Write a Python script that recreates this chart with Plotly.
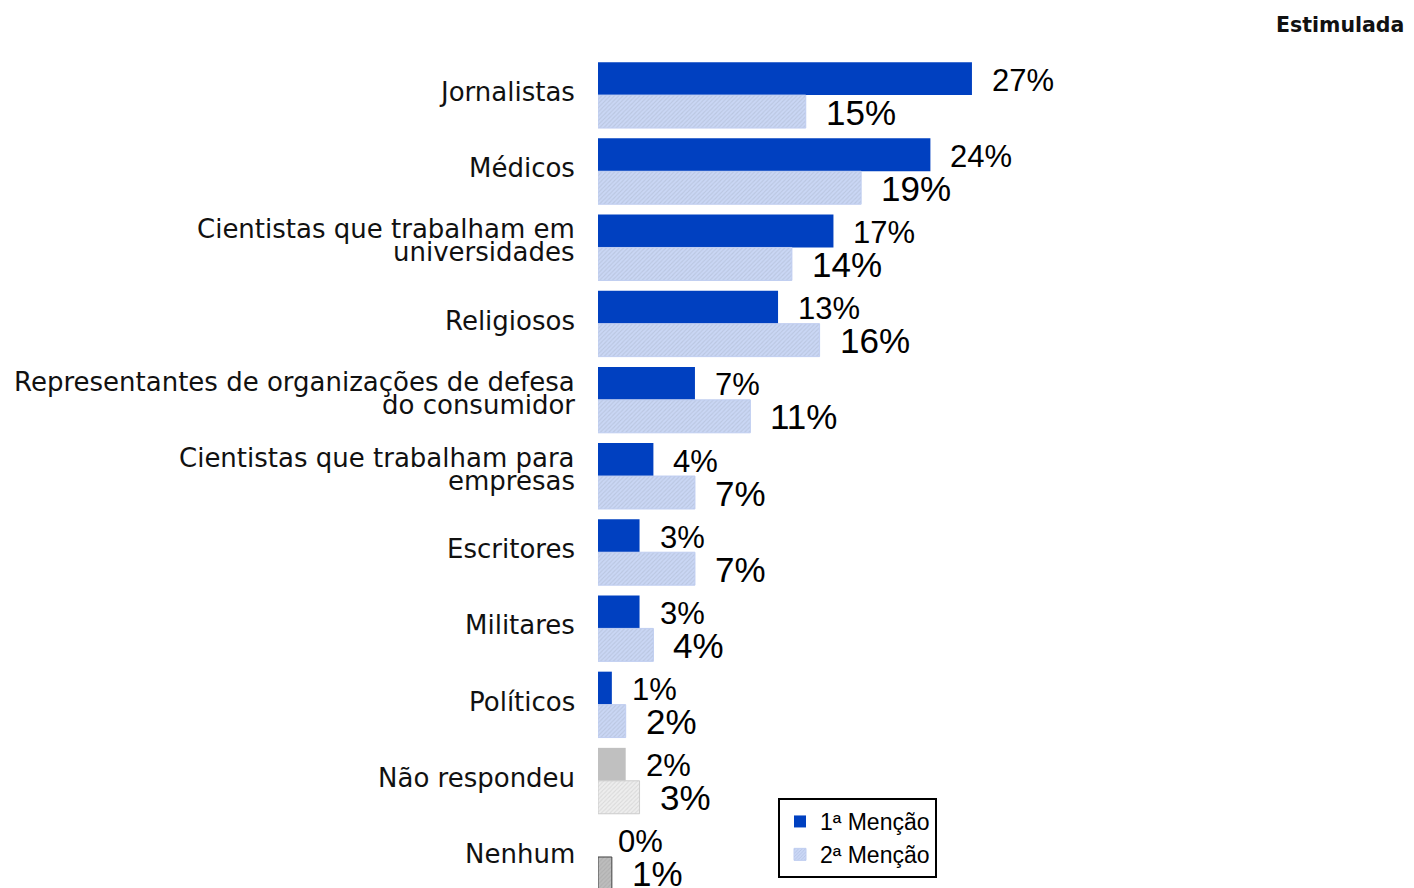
import plotly.graph_objects as go

categories = [
    "Jornalistas",
    "Médicos",
    "Cientistas que trabalham em<br>universidades",
    "Religiosos",
    "Representantes de organizações de defesa<br>do consumidor",
    "Cientistas que trabalham para<br>empresas",
    "Escritores",
    "Militares",
    "Políticos",
    "Não respondeu",
    "Nenhum",
]
first_mention = [27, 24, 17, 13, 7, 4, 3, 3, 1, 2, 0]
second_mention = [15, 19, 14, 16, 11, 7, 7, 4, 2, 3, 1]
series_names = ["1ª Menção", "2ª Menção"]
title_text = "Estimulada"

n = len(categories)
idx = list(range(n))

# The page body has an 8px default margin; size the figure to fit the window.
PAGE_OFF = 8
W, H = 1414 - PAGE_OFF, 888 - PAGE_OFF
ML, MT = 598 - PAGE_OFF, 57 - PAGE_OFF
PX_PER_UNIT = 13.85
PLOT_W = W - ML

BLUE = "#0040C0"
first_colors = [BLUE] * 9 + ["#C0C0C0", "#C0C0C0"]
second_colors = ["#CAD7F5"] * 9 + ["#EEEEEE", "#BDBDBD"]
second_line = ["#BFCDF0"] * 9 + ["#CCCCCC", "#404040"]

fig = go.Figure()
fig.add_trace(go.Bar(
    y=idx, x=first_mention, orientation="h", name=series_names[0],
    marker=dict(color=first_colors, line=dict(width=0)),
))
fig.add_trace(go.Bar(
    y=idx, x=second_mention, orientation="h", name=series_names[1],
    marker=dict(
        color=second_colors,
        line=dict(color=second_line, width=1),
        pattern=dict(shape="/", fgcolor="#1A2F70", fgopacity=0.12,
                     size=3, solidity=0.35, fillmode="overlay"),
    ),
))

annotations = []
for i, v in enumerate(first_mention):
    annotations.append(dict(
        x=v, y=i, xref="x", yref="y", text=f"{v}%", showarrow=False,
        xanchor="left", yanchor="middle", xshift=18, yshift=15,
        font=dict(family="Liberation Sans", size=31, color="black"),
    ))
for i, v in enumerate(second_mention):
    annotations.append(dict(
        x=v, y=i, xref="x", yref="y", text=f"{v}%", showarrow=False,
        xanchor="left", yanchor="middle", xshift=18, yshift=-17,
        font=dict(family="Liberation Sans", size=35, color="black"),
    ))

# category labels (tight line spacing for two-line labels)
LABEL_FONT = dict(family="DejaVu Sans", size=26, color="#111111")
for i, lab in enumerate(categories):
    lines = lab.split("<br>")
    shifts = [3] if len(lines) == 1 else [18, -5]
    for line, s in zip(lines, shifts):
        annotations.append(dict(
            x=0, y=i, xref="paper", yref="y", text=line, showarrow=False,
            xanchor="right", yanchor="middle", xshift=-21, yshift=s,
            font=LABEL_FONT,
        ))

fig.update_layout(
    width=W, height=H,
    margin=dict(l=ML, r=0, t=MT, b=0, autoexpand=False),
    paper_bgcolor="white", plot_bgcolor="white",
    barmode="group", bargap=0.135, bargroupgap=0,
    showlegend=True,
    legend=dict(
        x=(778 - 598) / PLOT_W, y=(888 - 798) / 831, xanchor="left", yanchor="top",
        bordercolor="black", borderwidth=2, bgcolor="white",
        font=dict(family="Liberation Sans", size=23, color="black"),
        tracegroupgap=0, itemwidth=30,
    ),
    title=dict(
        text=f"<b>{title_text}</b>", x=(1276 - 598) / PLOT_W, xanchor="left",
        y=1 - (25 - PAGE_OFF) / H, yanchor="middle", xref="paper", yref="container",
        font=dict(family="DejaVu Sans", size=20.5, color="#111111"),
    ),
    xaxis=dict(range=[0, PLOT_W / PX_PER_UNIT], visible=False, fixedrange=True),
    yaxis=dict(
        range=[10.407, -0.5], showticklabels=False,
        showgrid=False, zeroline=False, showline=False, ticks="",
    ),
    annotations=annotations,
)

fig.write_html("out.html")
